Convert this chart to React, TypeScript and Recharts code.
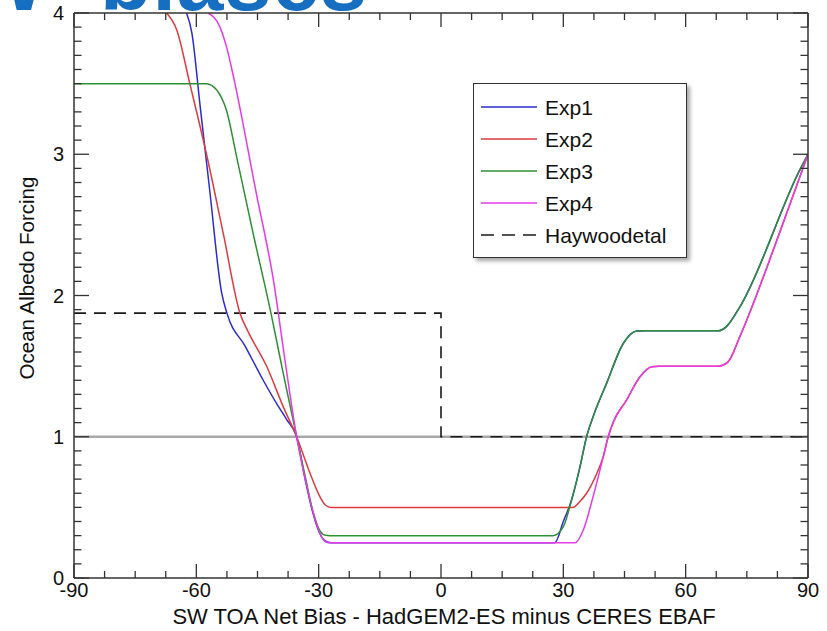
import React from 'react';
import { LineChart, Line, XAxis, YAxis, ReferenceLine, Legend } from 'recharts';

type Pt = [number, number];

// Series values ([x, y] pairs)
const exp1: Pt[] = [
  [-62.4, 4.0], [-61.1, 3.86], [-59.1, 3.35], [-56.7, 2.74], [-53.8, 2.02], [-52.5, 1.875],
  [-48.0, 1.64], [-43.6, 1.40], [-40.0, 1.22], [-37.8, 1.12], [-35.4, 1.0], [-33.4, 0.71],
  [-31.5, 0.47], [-29.8, 0.32], [-28.3, 0.26], [-27.0, 0.25], [27.9, 0.25], [30.0, 0.40],
  [32.0, 0.55], [34.1, 0.788], [35.7, 1.0], [37.3, 1.142], [40.6, 1.378], [44.7, 1.66],
  [48.0, 1.749], [50.0, 1.75], [68.0, 1.75], [70.0, 1.78], [73.3, 1.92], [88.0, 2.89], [90.0, 3.0],
];
const exp2: Pt[] = [
  [-67.3, 4.0], [-64.8, 3.88], [-61.6, 3.5], [-57.5, 3.0], [-53.4, 2.44], [-49.3, 1.875],
  [-47.3, 1.744], [-42.7, 1.496], [-38.7, 1.213], [-35.4, 1.0], [-32.1, 0.74], [-29.7, 0.576],
  [-28.3, 0.515], [-27.0, 0.5], [32.4, 0.5], [34.0, 0.54], [35.7, 0.6], [38.2, 0.74],
  [39.8, 0.86], [41.0, 1.0], [42.3, 1.107], [45.5, 1.26], [48.8, 1.425], [51.7, 1.496],
  [53.5, 1.5], [68.0, 1.5], [70.4, 1.53], [73.3, 1.71], [83.1, 2.45], [90.0, 3.0],
];
const exp3: Pt[] = [
  [-90.0, 3.5], [-57.5, 3.5], [-55.0, 3.455], [-52.6, 3.31], [-50.1, 2.98], [-46.0, 2.43],
  [-41.7, 1.875], [-38.7, 1.45], [-35.4, 1.0], [-33.3, 0.72], [-31.3, 0.458], [-29.6, 0.33],
  [-28.3, 0.302], [-27.2, 0.3], [27.5, 0.3], [30.0, 0.363], [32.0, 0.55], [34.1, 0.788],
  [35.7, 1.0], [37.3, 1.142], [40.6, 1.378], [44.7, 1.66], [48.0, 1.749], [50.0, 1.75],
  [68.0, 1.75], [70.0, 1.78], [73.3, 1.92], [88.0, 2.89], [90.0, 3.0],
];
const exp4: Pt[] = [
  [-57.1, 4.0], [-54.2, 3.9], [-52.6, 3.76], [-50.9, 3.55], [-45.2, 2.71], [-41.1, 2.11],
  [-38.3, 1.55], [-35.4, 1.0], [-33.3, 0.7], [-31.3, 0.46], [-29.6, 0.31], [-28.2, 0.255],
  [-27.0, 0.25], [32.9, 0.25], [34.9, 0.34], [37.3, 0.576], [39.8, 0.859], [41.0, 1.0],
  [42.3, 1.107], [45.5, 1.26], [48.8, 1.425], [51.7, 1.496], [53.5, 1.5], [68.0, 1.5],
  [70.4, 1.53], [73.3, 1.71], [83.1, 2.45], [90.0, 3.0],
];
const haywood: Pt[] = [[-90, 1.875], [0, 1.875], [0, 1.0], [90, 1.0]];

const xMajorTicks = [-90, -60, -30, 0, 30, 60, 90];
const xMinorTicks = [-82.5, -75, -67.5, -52.5, -45, -37.5, -22.5, -15, -7.5, 7.5, 15, 22.5, 37.5, 45, 52.5, 67.5, 75, 82.5];
const yMajorTicks = [0, 1, 2, 3, 4];
const yMinorTicks = [
  0.1, 0.2, 0.3, 0.4, 0.5, 0.6, 0.7, 0.8, 0.9, 1.1, 1.2, 1.3, 1.4, 1.5, 1.6, 1.7, 1.8, 1.9,
  2.1, 2.2, 2.3, 2.4, 2.5, 2.6, 2.7, 2.8, 2.9, 3.1, 3.2, 3.3, 3.4, 3.5, 3.6, 3.7, 3.8, 3.9,
];

const seriesNames = ['Exp1', 'Exp2', 'Exp3', 'Exp4', 'Haywoodetal'];
const xTitle = 'SW TOA Net Bias - HadGEM2-ES minus CERES EBAF';
const yTitle = 'Ocean Albedo Forcing';
const bannerLeft = 'SW';
const bannerRight = 'biases';

const COLORS = ['#2b2bd2', '#e03a3e', '#2f8f35', '#e63ae6', '#1a1a1a'];
const FONT = "'Liberation Sans', Arial, Helvetica, sans-serif";
const AXIS = '#333';

const rows = (pts: Pt[]) => pts.map(([x, y]) => ({ x, y }));
const xTicks = [...xMajorTicks, ...xMinorTicks].sort((a, b) => a - b);
const yTicks = [...yMajorTicks, ...yMinorTicks].sort((a, b) => a - b);
const isXMajor = (v: number) => xMajorTicks.some((m) => Math.abs(m - v) < 1e-6);
const isYMajor = (v: number) => yMajorTicks.some((m) => Math.abs(m - v) < 1e-6);

const BottomTick = (p: any) => {
  const v = p.payload.value;
  const major = isXMajor(v);
  return (
    <g>
      <line x1={p.x} x2={p.x} y1={p.y} y2={p.y - (major ? 14 : 7)} stroke={AXIS} strokeWidth={1.3} />
      {major && (
        <text x={p.x} y={p.y + 19} textAnchor="middle" fontSize={20} fontFamily={FONT} fill="#111">
          {v}
        </text>
      )}
    </g>
  );
};
const TopTick = (p: any) => {
  const major = isXMajor(p.payload.value);
  return <line x1={p.x} x2={p.x} y1={p.y} y2={p.y + (major ? 14 : 7)} stroke={AXIS} strokeWidth={1.3} />;
};
const LeftTick = (p: any) => {
  const v = p.payload.value;
  const major = isYMajor(v);
  return (
    <g>
      <line x1={p.x} x2={p.x + (major ? 15 : 7.5)} y1={p.y} y2={p.y} stroke={AXIS} strokeWidth={1.3} />
      {major && (
        <text x={p.x - 10} y={p.y} dy="0.36em" textAnchor="end" fontSize={20} fontFamily={FONT} fill="#111">
          {Math.round(v)}
        </text>
      )}
    </g>
  );
};
const RightTick = (p: any) => {
  const major = isYMajor(p.payload.value);
  return <line x1={p.x} x2={p.x - (major ? 15 : 7.5)} y1={p.y} y2={p.y} stroke={AXIS} strokeWidth={1.3} />;
};

const XTitle = () => (
  <text x={444} y={624} textAnchor="middle" fontSize={22} fontFamily={FONT} fill="#111">
    {xTitle}
  </text>
);
const YTitle = () => (
  <text
    x={27}
    y={278}
    transform="rotate(-90 27 278)"
    textAnchor="middle"
    dy="0.36em"
    fontSize={20.5}
    fontFamily={FONT}
    fill="#111"
  >
    {yTitle}
  </text>
);

const LegendBox = () => (
  <div
    style={{
      width: 214,
      height: 175,
      boxSizing: 'border-box',
      border: '1.5px solid #333',
      background: '#fff',
      boxShadow: '3px 3px 4px rgba(0,0,0,0.35)',
    }}
  >
    <svg width={211} height={172} style={{ display: 'block' }}>
      {seriesNames.map((name, i) => {
        const y = 23 + i * 32;
        return (
          <g key={name}>
            <line
              x1={7}
              x2={63}
              y1={y}
              y2={y}
              stroke={COLORS[i]}
              strokeWidth={1.6}
              strokeDasharray={i === 4 ? '13 8' : undefined}
            />
            <text x={71} y={y} dy="0.36em" fontSize={21} fontFamily={FONT} fill="#111">
              {name}
            </text>
          </g>
        );
      })}
    </svg>
  </div>
);

const series = [exp1, exp2, exp3, exp4];

export default function App() {
  return (
    <div style={{ position: 'absolute', left: 0, top: 0, width: 827, height: 631, background: '#fff', overflow: 'hidden' }}>
      <svg width={827} height={12} style={{ position: 'absolute', left: 0, top: 0, zIndex: 2 }}>
        <text x={46} y={10} textAnchor="end" fontSize={84} fontWeight="bold" fontFamily={FONT} fill="#156ebf">
          {bannerLeft}
        </text>
        <text x={100} y={10} fontSize={84} fontWeight="bold" fontFamily={FONT} fill="#156ebf" textLength={267} lengthAdjust="spacing">
          {bannerRight}
        </text>
      </svg>
      <LineChart width={827} height={631} margin={{ top: 0, right: 0, bottom: 0, left: 0 }}>
        <XAxis
          xAxisId="b"
          dataKey="x"
          type="number"
          domain={[-90, 90]}
          allowDataOverflow
          ticks={xTicks}
          interval={0}
          orientation="bottom"
          height={53}
          tickSize={0}
          tickMargin={0}
          tickLine={false}
          tick={BottomTick}
          axisLine={{ stroke: AXIS, strokeWidth: 1.5 }}
          label={<XTitle />}
        />
        <XAxis
          xAxisId="t"
          dataKey="x"
          type="number"
          domain={[-90, 90]}
          allowDataOverflow
          ticks={xTicks}
          interval={0}
          orientation="top"
          height={13}
          tickSize={0}
          tickMargin={0}
          tickLine={false}
          tick={TopTick}
          axisLine={{ stroke: AXIS, strokeWidth: 1.5 }}
        />
        <YAxis
          yAxisId="l"
          type="number"
          domain={[0, 4]}
          allowDataOverflow
          ticks={yTicks}
          interval={0}
          orientation="left"
          width={74}
          tickSize={0}
          tickMargin={0}
          tickLine={false}
          tick={LeftTick}
          axisLine={{ stroke: AXIS, strokeWidth: 1.5 }}
          label={<YTitle />}
        />
        <YAxis
          yAxisId="r"
          type="number"
          domain={[0, 4]}
          allowDataOverflow
          ticks={yTicks}
          interval={0}
          orientation="right"
          width={19}
          tickSize={0}
          tickMargin={0}
          tickLine={false}
          tick={RightTick}
          axisLine={{ stroke: AXIS, strokeWidth: 1.5 }}
        />
        <ReferenceLine xAxisId="b" yAxisId="l" y={1} stroke="#a8a8a8" strokeWidth={2.5} />
        <Line
          xAxisId="t"
          yAxisId="r"
          data={rows(haywood)}
          dataKey="y"
          stroke="none"
          dot={false}
          isAnimationActive={false}
          legendType="none"
        />
        <Line
          xAxisId="b"
          yAxisId="l"
          data={rows(haywood)}
          dataKey="y"
          type="linear"
          stroke={COLORS[4]}
          strokeWidth={1.6}
          strokeDasharray="12 8"
          dot={false}
          isAnimationActive={false}
          name={seriesNames[4]}
        />
        {series.map((s, i) => (
          <Line
            key={seriesNames[i]}
            xAxisId="b"
            yAxisId="l"
            data={rows(s)}
            dataKey="y"
            type="monotone"
            stroke={COLORS[i]}
            strokeWidth={1.5}
            dot={false}
            isAnimationActive={false}
            name={seriesNames[i]}
          />
        ))}
        <Legend
          layout="horizontal"
          verticalAlign="middle"
          align="center"
          wrapperStyle={{ left: 473, top: 83, width: 214, height: 175 }}
          content={() => <LegendBox />}
        />
      </LineChart>
    </div>
  );
}
